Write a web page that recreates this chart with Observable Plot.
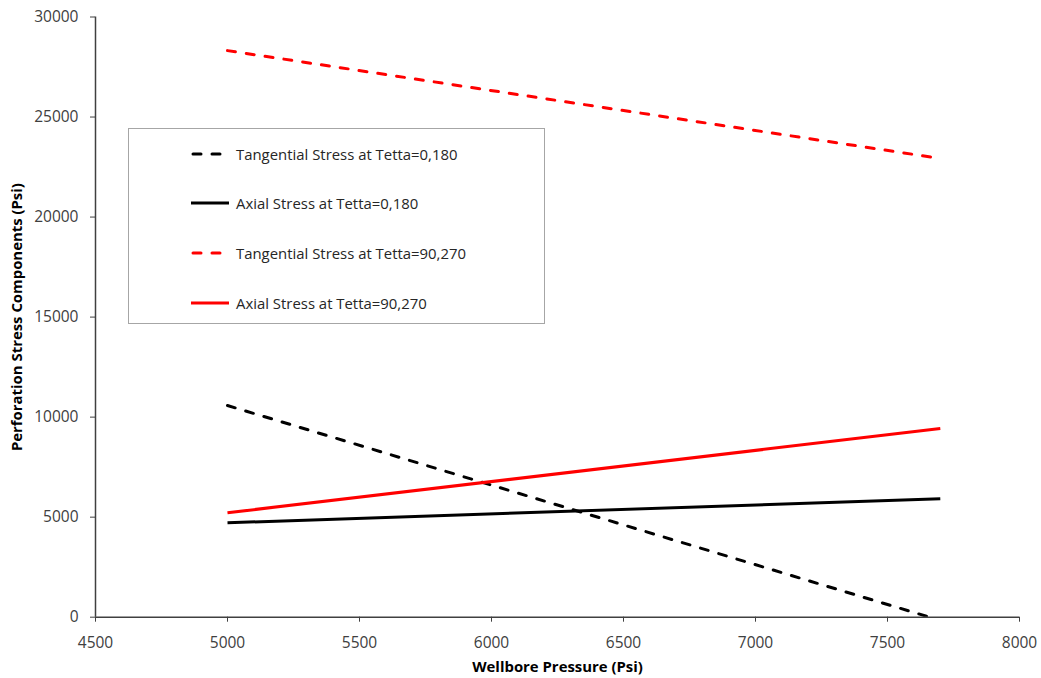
<!DOCTYPE html>
<html>
<head>
<meta charset="utf-8">
<script src="https://cdn.jsdelivr.net/npm/d3@7"></script>
<script src="https://cdn.jsdelivr.net/npm/@observablehq/plot@0.6"></script>
<style>
  html, body { margin: 0; padding: 0; background: #fff; }
  #wrap { position: relative; width: 1041px; height: 678px; font-family: "Open Sans", sans-serif; }
  #legend { position: absolute; left: 128px; top: 128px; width: 417px; height: 196px; border: 1px solid #a6a6a6; background: #fff; box-sizing: border-box; }
  .row { position: absolute; left: 62px; height: 20px; display: flex; align-items: center; font-size: 14.9px; color: #262626; white-space: nowrap; }
  .row svg { margin-right: 5px; }
</style>
</head>
<body>
<div id="wrap"></div>
<script>
const pressure = [5000, 7700];
const tangentialStress0 = [10580, -160];
const axialStress0 = [4720, 5920];
const tangentialStress90 = [28320, 22930];
const axialStress90 = [5220, 9430];
const seriesNames = [
  "Tangential Stress at Tetta=0,180",
  "Axial Stress at Tetta=0,180",
  "Tangential Stress at Tetta=90,270",
  "Axial Stress at Tetta=90,270"
];
const seriesValues = [tangentialStress0, axialStress0, tangentialStress90, axialStress90];
const seriesColors = ["black", "black", "#ff0000", "#ff0000"];
const seriesDashed = [true, false, true, false];
const xTicks = [4500, 5000, 5500, 6000, 6500, 7000, 7500, 8000];
const yTicks = [0, 5000, 10000, 15000, 20000, 25000, 30000];

const rows = [];
seriesNames.forEach((name, i) => {
  pressure.forEach((p, j) => rows.push({series: name, x: p, y: seriesValues[i][j], idx: i}));
});

const lineMarks = seriesNames.map((name, i) => Plot.line(rows.filter(d => d.idx === i), {
  x: "x", y: "y",
  stroke: seriesColors[i],
  strokeWidth: 3,
  strokeDasharray: seriesDashed[i] ? "8,11" : null,
  strokeLinecap: seriesDashed[i] ? "round" : "butt",
  clip: true
}));

const chart = Plot.plot({
  width: 1041,
  height: 678,
  marginLeft: 95,
  marginRight: 22,
  marginTop: 16.5,
  marginBottom: 61.3,
  style: { fontFamily: "Open Sans, sans-serif", fontSize: "15.5px", color: "#404040", background: "white" },
  x: { domain: [4500, 8000], label: null },
  y: { domain: [0, 30000], label: null },
  marks: [
    Plot.axisX({ ticks: xTicks, tickSize: 5, tickPadding: 15, tickFormat: d3.format("d"), label: null, fontSize: 15.5 }),
    Plot.axisY({ ticks: yTicks, tickSize: 5, tickPadding: 12, tickFormat: d3.format("d"), label: null, fontSize: 15.5 }),
    Plot.ruleX([4500], { stroke: "#404040", strokeWidth: 1.5 }),
    Plot.ruleY([0], { stroke: "#404040", strokeWidth: 1.5 }),
    ...lineMarks,
    Plot.text(["Wellbore Pressure (Psi)"], { frameAnchor: "bottom", dy: 50, lineAnchor: "middle", textAnchor: "middle", text: d => d, fontWeight: "bold", fontSize: 14.9, fill: "#000" }),
    Plot.text(["Perforation Stress Components (Psi)"], { frameAnchor: "left", dx: -78, rotate: -90, textAnchor: "middle", lineAnchor: "middle", text: d => d, fontWeight: "bold", fontSize: 14.9, fill: "#000" })
  ]
});

const wrap = document.getElementById("wrap");
wrap.appendChild(chart);

const legend = document.createElement("div");
legend.id = "legend";
const rowTops = [15, 64, 114, 164];
seriesNames.forEach((name, i) => {
  const r = document.createElement("div");
  r.className = "row";
  r.style.top = rowTops[i] + "px";
  const dash = seriesDashed[i] ? `stroke-dasharray="8,11" stroke-linecap="round"` : "";
  const x1 = seriesDashed[i] ? 2 : 0;
  r.innerHTML = `<svg width="40" height="10"><line x1="${x1}" y1="5" x2="38" y2="5" stroke="${seriesColors[i]}" stroke-width="3" ${dash}/></svg><span>${name}</span>`;
  legend.appendChild(r);
});
wrap.appendChild(legend);
</script>
</body>
</html>
